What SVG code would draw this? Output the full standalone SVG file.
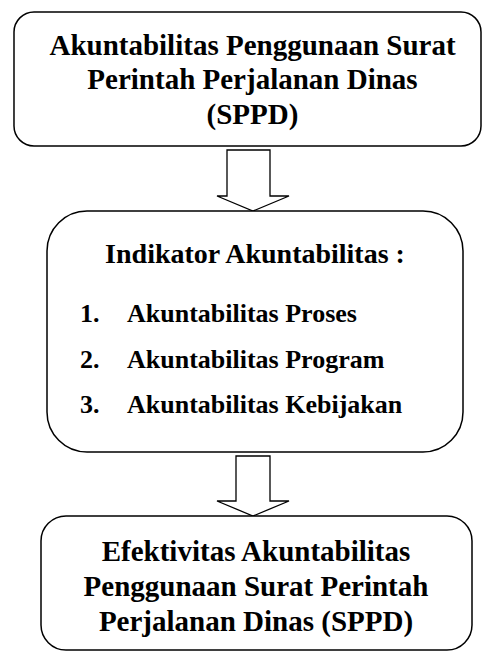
<svg xmlns="http://www.w3.org/2000/svg" width="483" height="653" viewBox="0 0 483 653">
<style>
.box{fill:#fff;stroke:#000;stroke-width:1.5}
.arr{fill:#fff;stroke:#000;stroke-width:1.3;stroke-linejoin:miter}
.t{font-family:"Liberation Serif","Times New Roman",serif;font-weight:bold;fill:#000}
.h{font-size:29px;text-anchor:middle}
.i{font-size:26px}
</style>
<g id="connectors">
<path class="arr" d="M227,150 H270 V196 H289 L253,211 L217,196 H227 Z"/>
<path class="arr" d="M236,456 H270 V501 H289 L253,516 L217,501 H236 Z"/>
</g>
<g id="node1">
<rect class="box" x="14" y="12" width="467" height="134" rx="20"/>
<text class="t h" x="252.5" y="55">Akuntabilitas Penggunaan Surat</text>
<text class="t h" x="252.5" y="89">Perintah Perjalanan Dinas</text>
<text class="t h" x="252.5" y="124">(SPPD)</text>
</g>
<g id="node2">
<rect class="box" x="47" y="211" width="416" height="241" rx="40"/>
<text class="t h" x="255" y="263" style="font-size:28px">Indikator Akuntabilitas :</text>
<text class="t i" x="80" y="322">1.</text>
<text class="t i" x="127" y="322">Akuntabilitas Proses</text>
<text class="t i" x="80" y="368">2.</text>
<text class="t i" x="127" y="368">Akuntabilitas Program</text>
<text class="t i" x="80" y="413">3.</text>
<text class="t i" x="127" y="413">Akuntabilitas Kebijakan</text>
</g>
<g id="node3">
<rect class="box" x="41" y="516" width="431" height="134" rx="25"/>
<text class="t h" x="256" y="561">Efektivitas Akuntabilitas</text>
<text class="t h" x="256" y="596">Penggunaan Surat Perintah</text>
<text class="t h" x="256" y="631">Perjalanan Dinas (SPPD)</text>
</g>
</svg>
